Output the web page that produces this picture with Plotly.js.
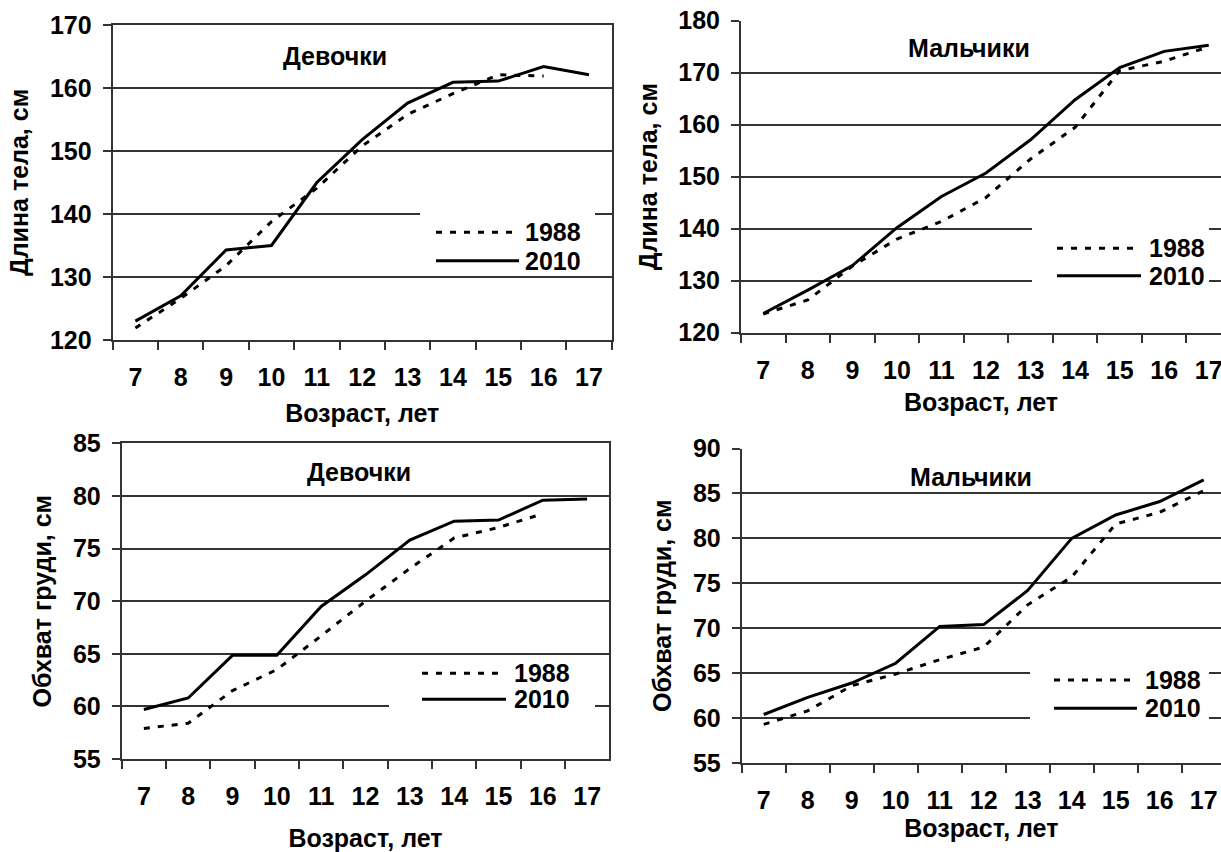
<!DOCTYPE html>
<html>
<head>
<meta charset="utf-8">
<script src="https://cdn.plot.ly/plotly-3.0.1.min.js"></script>
<style>
html,body{margin:0;padding:0;background:#fff;}
#chart{width:1221px;height:852px;}
</style>
</head>
<body>
<div id="chart"></div>
<script>
// ---- data ----
const ages = ['7','8','9','10','11','12','13','14','15','16','17'];
const seriesNames = ['1988', '2010'];
const panelTitles = ['Девочки', 'Мальчики', 'Девочки', 'Мальчики'];
const xTitle = 'Возраст, лет';
const yTitleHeight = 'Длина тела, см';
const yTitleChest = 'Обхват груди, см';

const girlsHeight1988 = [121.9, 126.6, 131.8, 138.8, 144.1, 150.8, 155.8, 159.1, 162.1, 161.9, null];
const girlsHeight2010 = [123.0, 127.0, 134.3, 135.0, 145.0, 151.8, 157.6, 160.9, 161.1, 163.4, 162.1];
const boysHeight1988  = [123.6, 126.3, 132.8, 138.0, 141.4, 146.0, 153.4, 159.5, 170.4, 172.2, 175.0];
const boysHeight2010  = [123.7, 128.2, 132.9, 140.2, 146.2, 150.7, 157.1, 164.8, 171.0, 174.1, 175.3];
const girlsChest1988  = [57.9, 58.4, 61.5, 63.5, 66.7, 70.0, 73.1, 76.0, 77.0, 78.3, null];
const girlsChest2010  = [59.7, 60.8, 64.85, 64.85, 69.5, 72.5, 75.8, 77.6, 77.7, 79.6, 79.7];
const boysChest1988   = [59.3, 60.8, 63.6, 64.9, 66.5, 67.9, 72.6, 75.7, 81.6, 82.9, 85.3];
const boysChest2010   = [60.4, 62.3, 63.9, 66.1, 70.2, 70.4, 74.2, 80.0, 82.6, 84.1, 86.5];

// ---- styling helpers ----
const W = 1221, H = 852;
const px = x => x / W;
const py = y => 1 - y / H;
const FONT = {family: 'Liberation Sans, Arial, sans-serif', size: 25, color: '#000', weight: 'bold'};
const GRID = '#333333';
const DASH = '6px,8px';

function tr(y, name, xa, ya, dotted) {
  return {
    x: ages, y: y, name: name, xaxis: xa, yaxis: ya, type: 'scatter', mode: 'lines',
    showlegend: false, hoverinfo: 'skip',
    line: {color: '#000', width: 3, dash: dotted ? DASH : 'solid', shape: 'linear'}
  };
}

const data = [
  tr(girlsHeight1988, seriesNames[0], 'x', 'y', true),
  tr(girlsHeight2010, seriesNames[1], 'x', 'y', false),
  tr(boysHeight1988, seriesNames[0], 'x2', 'y2', true),
  tr(boysHeight2010, seriesNames[1], 'x2', 'y2', false),
  tr(girlsChest1988, seriesNames[0], 'x3', 'y3', true),
  tr(girlsChest2010, seriesNames[1], 'x3', 'y3', false),
  tr(boysChest1988, seriesNames[0], 'x4', 'y4', true),
  tr(boysChest2010, seriesNames[1], 'x4', 'y4', false)
];

function xax(domain, range, anchor, mirror, standoff) {
  return {
    domain: domain, anchor: anchor, type: 'category', range: range,
    tickson: 'boundaries', ticks: 'outside', ticklen: 8, tickwidth: 2, tickcolor: GRID,
    showline: true, linecolor: GRID, linewidth: 2, mirror: mirror,
    showgrid: false, zeroline: false, tickfont: FONT, ticklabelstandoff: 14,
    automargin: false, fixedrange: true,
    title: {text: xTitle, font: FONT, standoff: standoff}
  };
}
function yax(domain, range, dtick, anchor, mirror, title, standoff) {
  return {
    domain: domain, anchor: anchor, range: range, dtick: dtick, tick0: range[0],
    ticks: 'outside', ticklen: 8, tickwidth: 2, tickcolor: GRID,
    showline: true, linecolor: GRID, linewidth: 2, mirror: mirror,
    showgrid: true, gridcolor: GRID, gridwidth: 2, zeroline: false,
    tickfont: FONT, ticklabelstandoff: 6, automargin: false, fixedrange: true,
    title: {text: title, font: FONT, standoff: standoff}
  };
}

const layout = {
  width: W, height: H,
  margin: {l: 0, r: 0, t: 0, b: 0},
  paper_bgcolor: '#fff', plot_bgcolor: '#fff',
  showlegend: false,
  xaxis:  xax([px(112.7), px(611.7)], [-0.5, 10.5], 'y', true, 14),
  yaxis:  yax([py(340), py(25)], [120, 170], 10, 'x', true, yTitleHeight, 14),
  xaxis2: xax([px(741), 1], [-0.5, 10.275], 'y2', false, 11),
  yaxis2: yax([py(332.7), py(20.7)], [120, 180], 10, 'x2', false, yTitleHeight, 14),
  xaxis3: xax([px(121.7), px(609.3)], [-0.5, 10.5], 'y3', true, 20),
  yaxis3: yax([py(759), py(443.3)], [55, 85], 5, 'x3', true, yTitleChest, 14),
  xaxis4: xax([px(741.7), 1], [-0.5, 10.393], 'y4', false, 3),
  yaxis4: yax([py(763), py(448.5)], [55, 90], 5, 'x4', false, yTitleChest, 14),
  shapes: [],
  annotations: []
};

// panel titles
const titlePos = [[334.6, 56], [969, 47.5], [359, 472], [971, 477]];
titlePos.forEach((p, i) => {
  layout.annotations.push({xref: 'paper', yref: 'paper', x: px(p[0]), y: py(p[1]),
    xanchor: 'center', yanchor: 'middle', showarrow: false, text: panelTitles[i], font: FONT});
});

// legends: [boxX0, boxY0, boxX1, boxY1, lineX0, lineX1, yDot, ySolid, textX]
const legends = [
  [420, 210, 595, 272, 436, 519, 232.3, 260.7, 523],
  [1032, 224, 1209, 291, 1057, 1141, 248.3, 275.7, 1147],
  [389, 658, 595, 712, 422, 506, 673.3, 699.3, 512],
  [1030, 664, 1209, 722, 1054, 1137, 680, 708.3, 1143]
];
legends.forEach(L => {
  layout.shapes.push({type: 'rect', xref: 'paper', yref: 'paper', layer: 'above',
    x0: px(L[0]), x1: px(L[2]), y0: py(L[3]), y1: py(L[1]),
    fillcolor: '#fff', line: {width: 0}});
  layout.shapes.push({type: 'line', xref: 'paper', yref: 'paper', layer: 'above',
    x0: px(L[4]), x1: px(L[5]), y0: py(L[6]), y1: py(L[6]),
    line: {color: '#000', width: 3, dash: DASH}});
  layout.shapes.push({type: 'line', xref: 'paper', yref: 'paper', layer: 'above',
    x0: px(L[4]), x1: px(L[5]), y0: py(L[7]), y1: py(L[7]),
    line: {color: '#000', width: 3}});
  layout.annotations.push({xref: 'paper', yref: 'paper', x: px(L[8]), y: py(L[6]),
    xanchor: 'left', yanchor: 'middle', showarrow: false, text: seriesNames[0], font: FONT});
  layout.annotations.push({xref: 'paper', yref: 'paper', x: px(L[8]), y: py(L[7]),
    xanchor: 'left', yanchor: 'middle', showarrow: false, text: seriesNames[1], font: FONT});
});

Plotly.newPlot('chart', data, layout, {displayModeBar: false, staticPlot: true});
</script>
</body>
</html>
